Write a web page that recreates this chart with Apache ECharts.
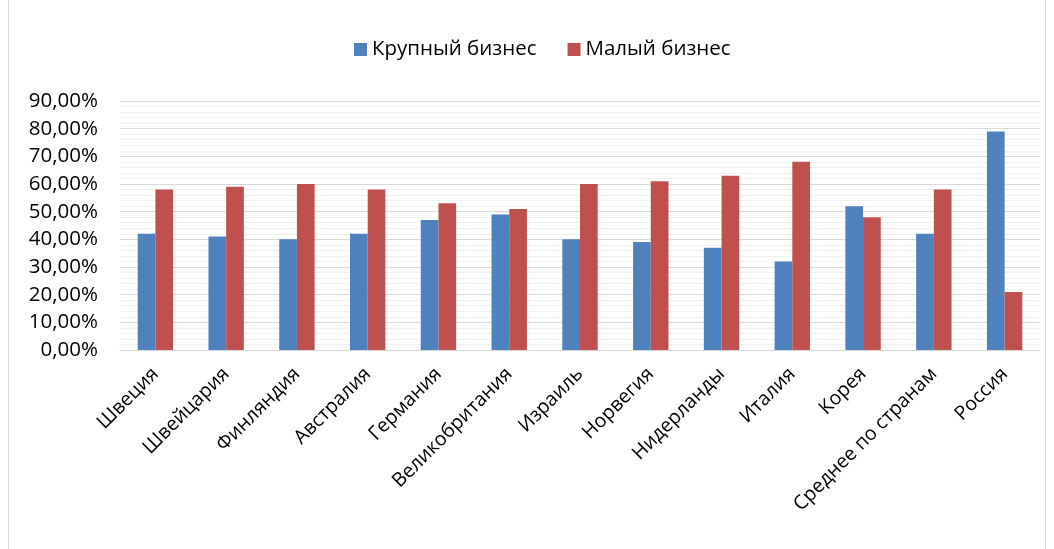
<!DOCTYPE html>
<html><head><meta charset="utf-8">
<script src="https://cdn.jsdelivr.net/npm/echarts@6/dist/echarts.min.js"></script>
<style>html,body{margin:0;padding:0;background:#fff}#c{width:1054px;height:549px}</style>
</head><body><div id="c"></div>
<script>
const categories = ['Швеция','Швейцария','Финляндия','Австралия','Германия','Великобритания','Израиль','Норвегия','Нидерланды','Италия','Корея','Среднее по странам','Россия'];
const bigBusiness = [42,41,40,42,47,49,40,39,37,32,52,42,79];
const smallBusiness = [58,59,60,58,53,51,60,61,63,68,48,58,21];
const seriesNames = ['Крупный бизнес','Малый бизнес'];
const FONT = '"Open Sans", "Noto Sans", sans-serif';
const chart = echarts.init(document.getElementById('c'));
chart.setOption({
  animation:false,
  graphic:[{type:'rect',shape:{x:8.5,y:-5,width:1037,height:560},style:{fill:'none',stroke:'#d9d9d9',lineWidth:1},silent:true}],
  legend:{top:34,left:349,itemWidth:13,itemHeight:13,itemGap:31,icon:'rect',
    textStyle:{fontFamily:FONT,fontSize:20.5,color:'#000'},data:seriesNames},
  grid:{left:120,right:14,top:101,bottom:199,containLabel:false},
  xAxis:{type:'category',data:categories,
    axisLine:{lineStyle:{color:'#d9d9d9',width:1}},axisTick:{show:false},
    axisLabel:{interval:0,rotate:45,margin:21,fontFamily:FONT,fontSize:19.5,color:'#000'}},
  yAxis:{type:'value',min:0,max:90,interval:10,
    axisLine:{show:false},axisTick:{show:false},
    axisLabel:{margin:22,fontFamily:FONT,fontSize:20.5,color:'#000',
      formatter:v=>v.toFixed(2).replace('.',',')+'%'},
    splitLine:{lineStyle:{color:'#d9d9d9',width:1}},
    minorTick:{show:false,splitNumber:5},
    minorSplitLine:{show:true,lineStyle:{color:'#f0f0f0',width:1}}},
  series:[
    {name:seriesNames[0],type:'bar',data:bigBusiness,barGap:'0%',barCategoryGap:'50%',
      itemStyle:{color:'#4F81BD'}},
    {name:seriesNames[1],type:'bar',data:smallBusiness,barGap:'0%',barCategoryGap:'50%',
      itemStyle:{color:'#C0504D'}}
  ]
});
</script></body></html>
